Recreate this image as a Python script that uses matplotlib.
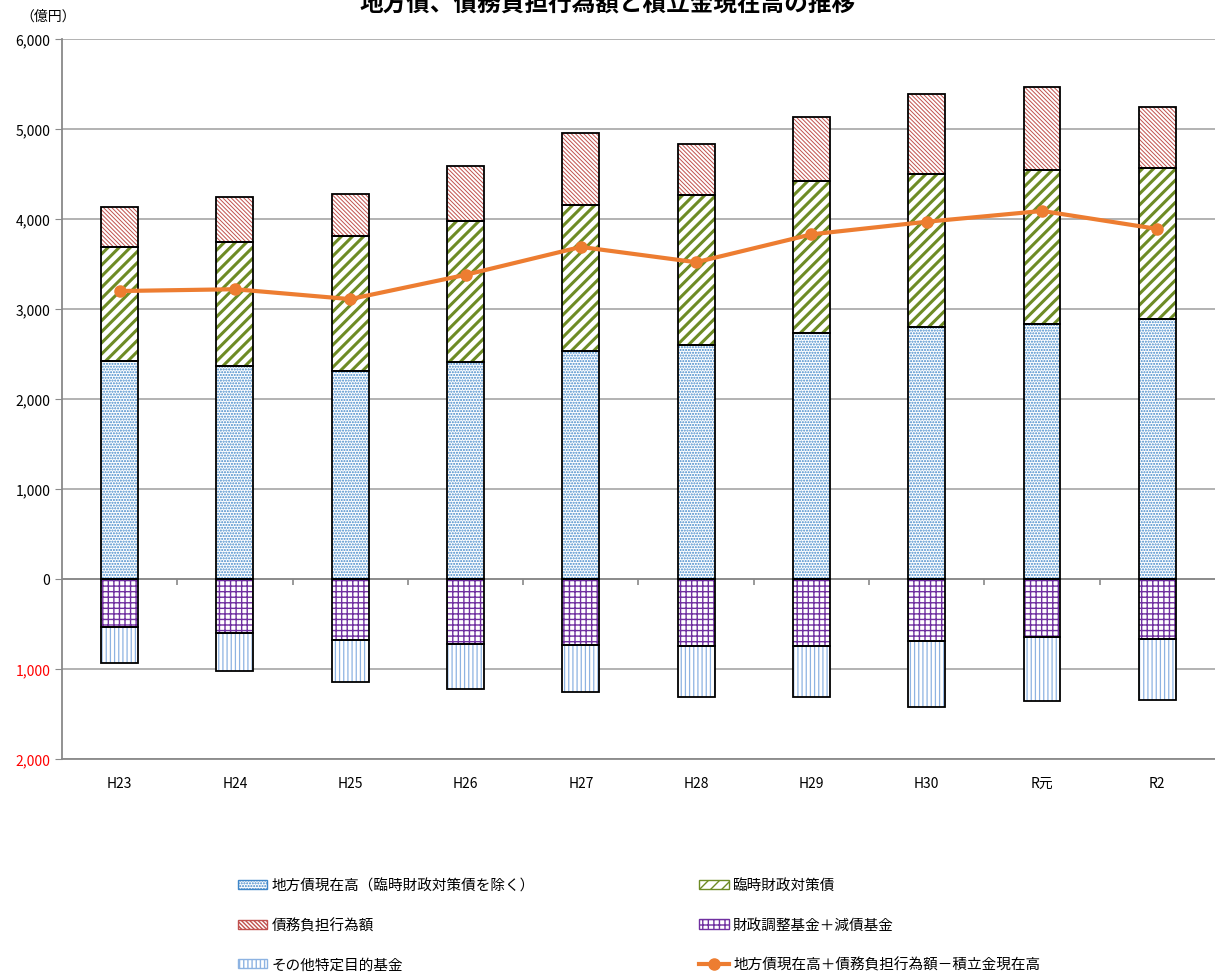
import matplotlib
matplotlib.use("Agg")
import matplotlib.pyplot as plt
import matplotlib.patches as mpatches
from matplotlib.lines import Line2D
from matplotlib.ticker import FuncFormatter
import numpy as np

plt.rcParams['font.family'] = ['Noto Sans CJK JP', 'DejaVu Sans']
plt.rcParams['hatch.linewidth'] = 1.0

years = ["H23", "H24", "H25", "H26", "H27", "H28", "H29", "H30", "R元", "R2"]
# 億円
chihousai = [2420, 2370, 2310, 2410, 2530, 2600, 2730, 2800, 2830, 2890]
rinji = [1270, 1380, 1500, 1570, 1630, 1670, 1690, 1700, 1710, 1680]
saimu = [440, 500, 470, 610, 800, 560, 710, 890, 930, 680]
chousei = [530, 600, 680, 720, 730, 740, 740, 690, 640, 670]
sonota = [400, 420, 470, 500, 530, 570, 570, 730, 720, 680]
net = [3200, 3220, 3110, 3380, 3690, 3520, 3830, 3970, 4090, 3890]

labels = ["地方債現在高（臨時財政対策債を除く）", "臨時財政対策債", "債務負担行為額",
          "財政調整基金＋減債基金", "その他特定目的基金",
          "地方債現在高＋債務負担行為額－積立金現在高"]

# hatch, colour, hatch linewidth
styles = [("......", "#3F86C8", 1.0),
          ("///", "#6E8B25", 2.2),
          ("\\\\\\\\\\\\\\\\", "#C0504D", 0.7),
          ("+++", "#7030A0", 1.0),
          ("||||", "#8DB3E2", 0.9)]

fig = plt.figure(figsize=(12.15, 9.78), dpi=100)
ax = fig.add_axes([0.051, 0.223, 0.949, 0.736])

x = np.arange(len(years))
w = 0.32

def set_hlw(p, lw):
    if hasattr(p, "set_hatch_linewidth"):
        p.set_hatch_linewidth(lw)

def hbar(bottom, vals, style):
    hatch, hcol, hlw = style
    vals = np.array(vals)
    with plt.rc_context({"hatch.linewidth": hlw}):
        bars = ax.bar(x, vals, w, bottom=bottom, color="white", edgecolor=hcol,
                      hatch=hatch, linewidth=0, zorder=2)
    for p in bars:
        set_hlw(p, hlw)
    ax.bar(x, vals, w, bottom=bottom, fill=False, edgecolor="black", linewidth=1.3, zorder=3)

b1 = np.zeros(len(years))
hbar(b1, chihousai, styles[0])
b2 = b1 + np.array(chihousai)
hbar(b2, rinji, styles[1])
b3 = b2 + np.array(rinji)
hbar(b3, saimu, styles[2])
hbar(np.zeros(len(years)), -np.array(chousei), styles[3])
hbar(-np.array(chousei), -np.array(sonota), styles[4])

ax.plot(x, net, color="#ED7D31", linewidth=3, marker="o", markersize=8, zorder=5)

ax.set_xlim(-0.5, len(years) - 0.5)
ax.set_ylim(-2000, 6000)
ax.set_yticks(range(-2000, 6001, 1000))
ax.yaxis.set_major_formatter(FuncFormatter(lambda v, p: f"{abs(int(v)):,}"))
for t, v in zip(ax.get_yticklabels(), range(-2000, 6001, 1000)):
    if v < 0:
        t.set_color("#FF0000")
ax.set_xticks(x)
ax.set_xticklabels(years)
ax.tick_params(axis="x", length=0, pad=12, labelsize=10)
ax.tick_params(axis="y", labelsize=10, color="#898989", length=5)
ax.grid(axis="y", color="#A6A6A6", linewidth=1.2, zorder=0)
ax.set_axisbelow(True)
for s in ["top", "right"]:
    ax.spines[s].set_visible(False)
ax.spines["left"].set_color("#898989")
ax.spines["bottom"].set_color("#898989")
ax.spines["left"].set_linewidth(1.3)
ax.spines["bottom"].set_linewidth(1.3)
ax.axhline(0, color="#898989", linewidth=1.3, zorder=1)
ax.vlines(x[:-1] + 0.5, -70, 0, color="#898989", linewidth=1.2, zorder=1)

fig.text(0.017, 0.983, "（億円）", fontsize=10, ha="left", va="center")
fig.text(0.5, 0.996, "地方債、債務負担行為額と積立金現在高の推移", fontsize=17,
         fontweight="bold", ha="center", va="center")

def patch(style):
    hatch, hcol, hlw = style
    with plt.rc_context({"hatch.linewidth": hlw}):
        p = mpatches.Patch(facecolor="white", edgecolor=hcol, hatch=hatch, linewidth=1)
    set_hlw(p, hlw)
    return p

handles = [patch(s) for s in styles]
handles.append(Line2D([], [], color="#ED7D31", linewidth=3, marker="o", markersize=8))
order = [0, 2, 4, 1, 3, 5]
fig.legend([handles[i] for i in order], [labels[i] for i in order], ncol=2,
           loc="center left", bbox_to_anchor=(0.185, 0.053), frameon=False,
           fontsize=10.5, handlelength=2.0, handleheight=0.6, handletextpad=0.3,
           labelspacing=1.75, columnspacing=11.3)

fig.savefig("out.png", dpi=100)
